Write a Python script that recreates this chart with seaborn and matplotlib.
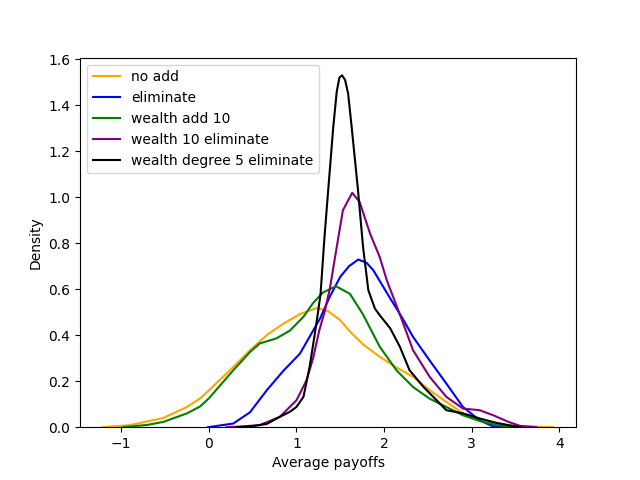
import pandas as pd
import seaborn as sns
import matplotlib
matplotlib.use("Agg")
import matplotlib.pyplot as plt

# density curves (x = average payoff, y = density)
no_add_x = [-1.22, -0.9, -0.52, -0.25, -0.1, 0.0, 0.28, 0.47, 0.66, 0.85, 1.04, 1.23, 1.36, 1.5, 1.6, 1.76, 1.95, 2.14, 2.33, 2.52, 2.71, 2.9, 3.09, 3.28, 3.47, 3.93]
no_add_y = [0.0, 0.009, 0.04, 0.088, 0.125, 0.16, 0.262, 0.335, 0.40, 0.45, 0.492, 0.518, 0.505, 0.465, 0.42, 0.36, 0.306, 0.26, 0.219, 0.161, 0.11, 0.06, 0.029, 0.012, 0.005, 0.0]

elim_x = [-0.01, 0.28, 0.47, 0.66, 0.85, 1.04, 1.19, 1.27, 1.38, 1.5, 1.6, 1.705, 1.8, 1.876, 2.07, 2.2, 2.33, 2.52, 2.71, 2.9, 3.09, 3.24, 3.4]
elim_y = [0.0, 0.016, 0.065, 0.16, 0.245, 0.32, 0.42, 0.473, 0.567, 0.654, 0.70, 0.729, 0.715, 0.683, 0.56, 0.48, 0.393, 0.29, 0.19, 0.088, 0.03, 0.004, 0.0]

add10_x = [-0.98, -0.7, -0.52, -0.25, -0.1, 0.0, 0.28, 0.47, 0.58, 0.77, 0.925, 1.08, 1.19, 1.3, 1.45, 1.61, 1.76, 1.95, 2.14, 2.33, 2.52, 2.71, 2.9, 3.09, 3.28, 3.47]
add10_y = [0.0, 0.01, 0.023, 0.06, 0.09, 0.125, 0.248, 0.327, 0.364, 0.386, 0.42, 0.48, 0.54, 0.585, 0.613, 0.58, 0.49, 0.35, 0.248, 0.175, 0.124, 0.088, 0.052, 0.027, 0.009, 0.0]

w10_x = [0.2, 0.4, 0.58, 0.81, 1.0, 1.115, 1.19, 1.26, 1.32, 1.38, 1.46, 1.53, 1.636, 1.72, 1.84, 1.95, 2.03, 2.14, 2.2, 2.33, 2.52, 2.71, 2.9, 3.09, 3.245, 3.42, 3.55, 3.74]
w10_y = [0.0, 0.004, 0.009, 0.045, 0.117, 0.204, 0.30, 0.42, 0.50, 0.60, 0.784, 0.943, 1.019, 0.98, 0.842, 0.74, 0.64, 0.53, 0.47, 0.335, 0.219, 0.132, 0.081, 0.074, 0.052, 0.023, 0.006, 0.0]

deg5_x = [0.32, 0.47, 0.66, 0.81, 0.925, 1.0, 1.08, 1.15, 1.21, 1.25, 1.275, 1.32, 1.36, 1.42, 1.46, 1.49, 1.52, 1.555, 1.59, 1.63, 1.70, 1.76, 1.82, 1.895, 1.95, 2.07, 2.18, 2.29, 2.45, 2.6, 2.71, 2.9, 3.09, 3.28, 3.55]
deg5_y = [0.0, 0.003, 0.014, 0.045, 0.067, 0.088, 0.132, 0.262, 0.407, 0.51, 0.58, 0.827, 1.02, 1.305, 1.46, 1.52, 1.53, 1.51, 1.45, 1.305, 1.04, 0.784, 0.596, 0.516, 0.487, 0.43, 0.35, 0.248, 0.175, 0.117, 0.074, 0.06, 0.038, 0.019, 0.0]

series = [
    ("no add", no_add_x, no_add_y, "orange"),
    ("eliminate", elim_x, elim_y, "blue"),
    ("wealth add 10", add10_x, add10_y, "green"),
    ("wealth 10 eliminate", w10_x, w10_y, "purple"),
    ("wealth degree 5 eliminate", deg5_x, deg5_y, "black"),
]

fig, ax = plt.subplots(figsize=(6.4, 4.8), dpi=100)
for name, xs, ys, col in series:
    sns.lineplot(x=xs, y=ys, color=col, label=name, ax=ax)

ax.set_xlim(-1.47, 4.19)
ax.set_ylim(0, 1.607)
ax.set_xlabel("Average payoffs")
ax.set_ylabel("Density")
ax.legend(loc="upper left")
plt.savefig("out.png")
